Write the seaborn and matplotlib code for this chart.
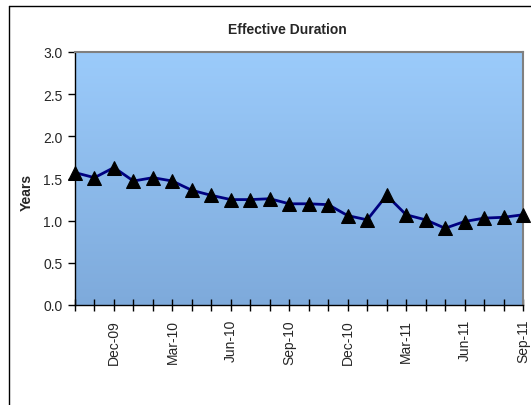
import numpy as np
import pandas as pd
import matplotlib
matplotlib.use("Agg")
import matplotlib.pyplot as plt
import seaborn as sns
from matplotlib.colors import LinearSegmentedColormap
from matplotlib.lines import Line2D

months = ["Oct-09", "Nov-09", "Dec-09", "Jan-10", "Feb-10", "Mar-10", "Apr-10", "May-10",
          "Jun-10", "Jul-10", "Aug-10", "Sep-10", "Oct-10", "Nov-10", "Dec-10", "Jan-11",
          "Feb-11", "Mar-11", "Apr-11", "May-11", "Jun-11", "Jul-11", "Aug-11", "Sep-11"]
duration = [1.57, 1.51, 1.63, 1.47, 1.51, 1.47, 1.36, 1.30, 1.25, 1.25, 1.26, 1.20,
            1.20, 1.19, 1.06, 1.01, 1.30, 1.07, 1.01, 0.91, 0.99, 1.03, 1.04, 1.07]
shown_labels = ["Dec-09", "Mar-10", "Jun-10", "Sep-10", "Dec-10", "Mar-11", "Jun-11", "Sep-11"]
yticks = [0.0, 0.5, 1.0, 1.5, 2.0, 2.5, 3.0]

sns.set_style("white")
plt.rcParams['font.family'] = ['Liberation Sans', 'DejaVu Sans']

df = pd.DataFrame({"idx": np.arange(len(months)), "month": months, "value": duration})

W, H = 531, 406
fig = plt.figure(figsize=(W / 100, H / 100), dpi=100)
ax = fig.add_axes([75 / W, 1 - 306 / H, (523 - 75) / W, (306 - 53) / H])

# outer chart border: only left and top visible (chart extends beyond image)
fig.lines.append(Line2D([8.5 / W, 8.5 / W], [0, 1 - 6.5 / H], transform=fig.transFigure,
                        color="black", linewidth=1.0))
fig.lines.append(Line2D([8.5 / W, 1.0], [1 - 6.5 / H, 1 - 6.5 / H], transform=fig.transFigure,
                        color="black", linewidth=1.0))

# gradient plot area
cmap = LinearSegmentedColormap.from_list("bg", ["#7eaadb", "#9bcbfb"])
grad = np.linspace(0, 1, 256).reshape(-1, 1)
ax.imshow(grad, cmap=cmap, origin="lower", extent=[0, 1, 0, 1], transform=ax.transAxes,
          aspect="auto", zorder=0)

sns.lineplot(data=df, x="idx", y="value", ax=ax, color="#000080", linewidth=2.0,
             marker="^", markersize=10, markerfacecolor="black", markeredgecolor="black",
             zorder=3, clip_on=False)

ax.set_xlim(0, len(months) - 1)
ax.set_ylim(0, 3)
ax.set_yticks(yticks)
ax.set_yticklabels([f"{v:.1f}" for v in yticks], fontsize=10)
ax.set_xticks(df["idx"])
ax.set_xticklabels([m if m in shown_labels else "" for m in months], rotation=90, fontsize=10)
ax.tick_params(axis="y", direction="out", length=5, width=1, color="black", left=True, pad=4)
ax.tick_params(axis="x", direction="inout", length=8, width=1, color="black", bottom=True, pad=6)

for s in ["left", "bottom"]:
    ax.spines[s].set_color("black")
    ax.spines[s].set_linewidth(1.0)
for s in ["top", "right"]:
    ax.spines[s].set_color("#808080")
    ax.spines[s].set_linewidth(1.5)
    ax.spines[s].set_visible(True)

ax.set_xlabel("")
ax.set_ylabel("")
fig.text(27 / W, 1 - 192 / H, "Years", rotation=90, ha="center", va="center",
         fontsize=10, fontweight="bold")
fig.text(287 / W, 1 - 30 / H, "Effective Duration", ha="center", va="center",
         fontsize=10, fontweight="bold")

fig.savefig("out.png", dpi=100)
